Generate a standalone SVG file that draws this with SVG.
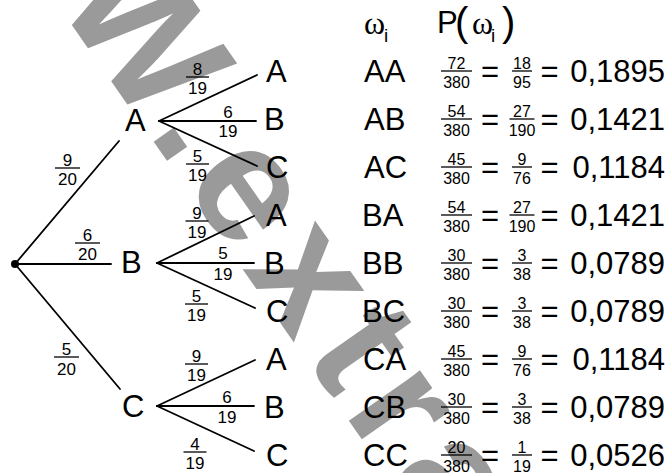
<svg xmlns="http://www.w3.org/2000/svg" width="670" height="473" viewBox="0 0 670 473">
<style>
.t{font-family:"Liberation Sans",Arial,sans-serif;fill:#000}
.big{font-size:31px}
.fr{font-size:17px;text-anchor:middle}
.tf{font-size:16px;text-anchor:middle}
.eq{font-size:31px;text-anchor:middle}
.val{font-size:31px;text-anchor:end}
.ln{stroke:#000;stroke-width:1.8;fill:none;stroke-linecap:round}
.bar{stroke:#000;stroke-width:1.3}
.wm{font-family:"Liberation Sans",Arial,sans-serif;font-weight:bold;font-size:165px;letter-spacing:14px;fill:#9a9a9a}
.gr{font-family:"Liberation Serif","Times New Roman",serif;font-size:32px}
</style>
<rect width="670" height="473" fill="#fff"/>
<text class="wm" transform="translate(55,1) rotate(55)">W.extra</text>

<g id="connectors">
<line class="ln" x1="15" y1="264" x2="119" y2="141"/>
<line class="ln" x1="15" y1="264" x2="111" y2="264"/>
<line class="ln" x1="15" y1="264" x2="120" y2="389"/>
<line class="ln" x1="159" y1="121" x2="257" y2="75"/>
<line class="ln" x1="159" y1="121" x2="256" y2="121"/>
<line class="ln" x1="159" y1="121" x2="257" y2="166"/>
<line class="ln" x1="157" y1="263" x2="254" y2="216"/>
<line class="ln" x1="157" y1="263" x2="254" y2="263"/>
<line class="ln" x1="157" y1="263" x2="255" y2="308"/>
<line class="ln" x1="157" y1="406" x2="255" y2="360"/>
<line class="ln" x1="157" y1="406" x2="254" y2="406"/>
<line class="ln" x1="157" y1="406" x2="254" y2="451"/>
</g>

<g id="edge-labels" class="t">
<g><text class="fr" x="67.5" y="165.5">9</text><line class="bar" x1="55" y1="168" x2="80" y2="168"/><text class="fr" x="67.5" y="185">20</text></g>
<g><text class="fr" x="87.5" y="240.5">6</text><line class="bar" x1="75" y1="243" x2="100" y2="243"/><text class="fr" x="87.5" y="260">20</text></g>
<g><text class="fr" x="66.5" y="354.5">5</text><line class="bar" x1="54" y1="357" x2="79" y2="357"/><text class="fr" x="66.5" y="374.5">20</text></g>

<g><text class="fr" x="197.5" y="75">8</text><line class="bar" x1="186" y1="77" x2="209" y2="77"/><text class="fr" x="197.5" y="93.5">19</text></g>
<g><text class="fr" x="228" y="118">6</text><text class="fr" x="228" y="137">19</text></g>
<g><text class="fr" x="197.5" y="162">5</text><line class="bar" x1="186" y1="164" x2="209" y2="164"/><text class="fr" x="197.5" y="180.5">19</text></g>

<g><text class="fr" x="197" y="219">9</text><line class="bar" x1="185.5" y1="221" x2="208.5" y2="221"/><text class="fr" x="197" y="237.5">19</text></g>
<g><text class="fr" x="223" y="259">5</text><text class="fr" x="223" y="279.5">19</text></g>
<g><text class="fr" x="196.5" y="302">5</text><line class="bar" x1="185" y1="304" x2="208" y2="304"/><text class="fr" x="196.5" y="320.5">19</text></g>

<g><text class="fr" x="196.5" y="362">9</text><line class="bar" x1="185" y1="364" x2="208" y2="364"/><text class="fr" x="196.5" y="380.5">19</text></g>
<g><text class="fr" x="227" y="403">6</text><text class="fr" x="227" y="423">19</text></g>
<g><text class="fr" x="195" y="450">4</text><line class="bar" x1="183.5" y1="452" x2="206.5" y2="452"/><text class="fr" x="195" y="468.5">19</text></g>
</g>

<g id="root"><circle cx="15" cy="264" r="4" fill="#000"/></g>
<g id="n-A" class="t big"><text x="125" y="131">A</text></g>
<g id="n-B" class="t big"><text x="121" y="273">B</text></g>
<g id="n-C" class="t big"><text x="122" y="417">C</text></g>

<g id="n-AA" class="t big"><text x="266" y="82">A</text></g>
<g id="n-AB" class="t big"><text x="264" y="130">B</text></g>
<g id="n-AC" class="t big"><text x="266" y="178">C</text></g>
<g id="n-BA" class="t big"><text x="266" y="226">A</text></g>
<g id="n-BB" class="t big"><text x="264" y="274">B</text></g>
<g id="n-BC" class="t big"><text x="266" y="322">C</text></g>
<g id="n-CA" class="t big"><text x="266" y="370">A</text></g>
<g id="n-CB" class="t big"><text x="264" y="418">B</text></g>
<g id="n-CC" class="t big"><text x="266" y="466">C</text></g>

<g id="header" class="t">
<text class="gr" x="364" y="34">ω</text>
<text x="384" y="42" style="font-size:19px">i</text>
<text class="big" x="437" y="33">P</text>
<text x="455" y="36" style="font-size:40px">(</text>
<text class="gr" x="472" y="34">ω</text>
<text x="491" y="42" style="font-size:19px">i</text>
<text x="502" y="36" style="font-size:40px">)</text>
</g>

<g id="table" class="t">
<g id="r-AA"><text class="big" x="364" y="82">AA</text><text class="tf" x="456.5" y="69">72</text><line class="bar" x1="441" y1="71" x2="472" y2="71"/><text class="tf" x="456.5" y="87.5">380</text><text class="eq" x="490" y="82">=</text><text class="tf" x="522" y="69">18</text><line class="bar" x1="512" y1="71" x2="532" y2="71"/><text class="tf" x="522" y="87.5">95</text><text class="eq" x="549.5" y="82">=</text><text class="val" x="665" y="82">0,1895</text></g>
<g id="r-AB"><text class="big" x="364" y="130">AB</text><text class="tf" x="456.5" y="117">54</text><line class="bar" x1="441" y1="119" x2="472" y2="119"/><text class="tf" x="456.5" y="135.5">380</text><text class="eq" x="490" y="130">=</text><text class="tf" x="522" y="117">27</text><line class="bar" x1="509.5" y1="119" x2="534.5" y2="119"/><text class="tf" x="522" y="135.5">190</text><text class="eq" x="549.5" y="130">=</text><text class="val" x="665" y="130">0,1421</text></g>
<g id="r-AC"><text class="big" x="364" y="178">AC</text><text class="tf" x="456.5" y="165">45</text><line class="bar" x1="441" y1="167" x2="472" y2="167"/><text class="tf" x="456.5" y="183.5">380</text><text class="eq" x="490" y="178">=</text><text class="tf" x="522" y="165">9</text><line class="bar" x1="512" y1="167" x2="532" y2="167"/><text class="tf" x="522" y="183.5">76</text><text class="eq" x="549.5" y="178">=</text><text class="val" x="665" y="178">0,1184</text></g>
<g id="r-BA"><text class="big" x="362" y="226">BA</text><text class="tf" x="456.5" y="213">54</text><line class="bar" x1="441" y1="215" x2="472" y2="215"/><text class="tf" x="456.5" y="231.5">380</text><text class="eq" x="490" y="226">=</text><text class="tf" x="522" y="213">27</text><line class="bar" x1="509.5" y1="215" x2="534.5" y2="215"/><text class="tf" x="522" y="231.5">190</text><text class="eq" x="549.5" y="226">=</text><text class="val" x="665" y="226">0,1421</text></g>
<g id="r-BB"><text class="big" x="362" y="274">BB</text><text class="tf" x="456.5" y="261">30</text><line class="bar" x1="441" y1="263" x2="472" y2="263"/><text class="tf" x="456.5" y="279.5">380</text><text class="eq" x="490" y="274">=</text><text class="tf" x="522" y="261">3</text><line class="bar" x1="512" y1="263" x2="532" y2="263"/><text class="tf" x="522" y="279.5">38</text><text class="eq" x="549.5" y="274">=</text><text class="val" x="665" y="274">0,0789</text></g>
<g id="r-BC"><text class="big" x="362" y="322">BC</text><text class="tf" x="456.5" y="309">30</text><line class="bar" x1="441" y1="311" x2="472" y2="311"/><text class="tf" x="456.5" y="327.5">380</text><text class="eq" x="490" y="322">=</text><text class="tf" x="522" y="309">3</text><line class="bar" x1="512" y1="311" x2="532" y2="311"/><text class="tf" x="522" y="327.5">38</text><text class="eq" x="549.5" y="322">=</text><text class="val" x="665" y="322">0,0789</text></g>
<g id="r-CA"><text class="big" x="363" y="370">CA</text><text class="tf" x="456.5" y="357">45</text><line class="bar" x1="441" y1="359" x2="472" y2="359"/><text class="tf" x="456.5" y="375.5">380</text><text class="eq" x="490" y="370">=</text><text class="tf" x="522" y="357">9</text><line class="bar" x1="512" y1="359" x2="532" y2="359"/><text class="tf" x="522" y="375.5">76</text><text class="eq" x="549.5" y="370">=</text><text class="val" x="665" y="370">0,1184</text></g>
<g id="r-CB"><text class="big" x="363" y="418">CB</text><text class="tf" x="456.5" y="405">30</text><line class="bar" x1="441" y1="407" x2="472" y2="407"/><text class="tf" x="456.5" y="423.5">380</text><text class="eq" x="490" y="418">=</text><text class="tf" x="522" y="405">3</text><line class="bar" x1="512" y1="407" x2="532" y2="407"/><text class="tf" x="522" y="423.5">38</text><text class="eq" x="549.5" y="418">=</text><text class="val" x="665" y="418">0,0789</text></g>
<g id="r-CC"><text class="big" x="363" y="466">CC</text><text class="tf" x="456.5" y="453">20</text><line class="bar" x1="441" y1="455" x2="472" y2="455"/><text class="tf" x="456.5" y="471.5">380</text><text class="eq" x="490" y="466">=</text><text class="tf" x="522" y="453">1</text><line class="bar" x1="512" y1="455" x2="532" y2="455"/><text class="tf" x="522" y="471.5">19</text><text class="eq" x="549.5" y="466">=</text><text class="val" x="665" y="466">0,0526</text></g>
</g>
</svg>
